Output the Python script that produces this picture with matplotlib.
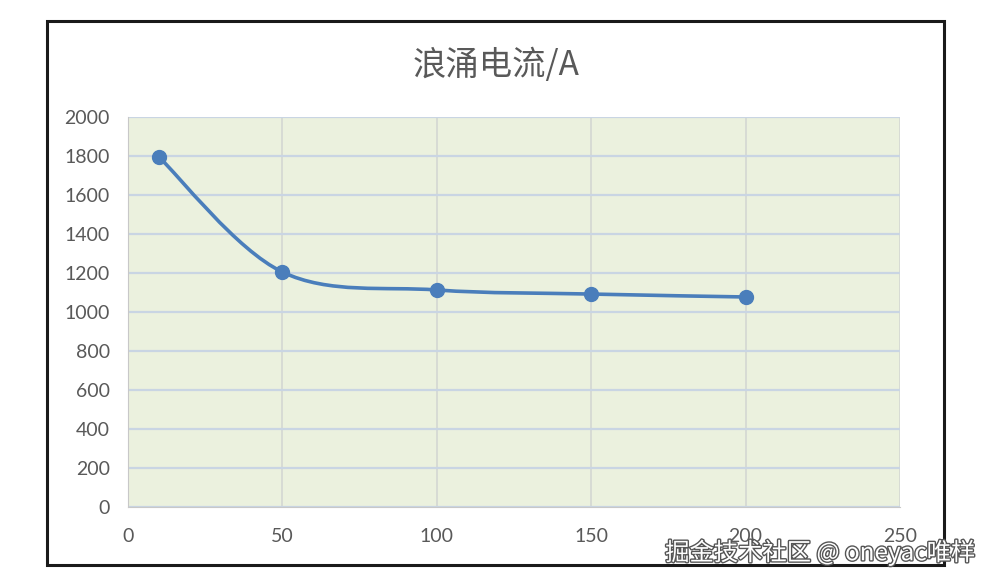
import numpy as np
import matplotlib.pyplot as plt
from matplotlib.path import Path
from matplotlib.patches import PathPatch, Rectangle
import matplotlib.patheffects as pe

plt.rcParams['font.family'] = ['Lato', 'Noto Sans CJK SC', 'DejaVu Sans']

# data
x = [10, 50, 100, 150, 200]
y = [1795, 1205, 1113, 1092, 1077]
title = '浪涌电流/A'
xticks = [0, 50, 100, 150, 200, 250]
yticks = [0, 200, 400, 600, 800, 1000, 1200, 1400, 1600, 1800, 2000]

line_color = '#4a7ebb'
text_color = '#595959'

fig = plt.figure(figsize=(9.96, 5.87), dpi=100)
ax = fig.add_axes([0.1285, 0.1363, 0.775, 0.6644])
ax.set_facecolor('#ebf1de')

# Excel-like smoothed line: cubic bezier through the points
px = np.array(x, float)
py = np.array(y, float)
verts = [(px[0], py[0])]
codes = [Path.MOVETO]
for i in range(len(px) - 1):
    p0 = np.array([px[max(i - 1, 0)], py[max(i - 1, 0)]])
    p1 = np.array([px[i], py[i]])
    p2 = np.array([px[i + 1], py[i + 1]])
    p3 = np.array([px[min(i + 2, len(px) - 1)], py[min(i + 2, len(px) - 1)]])
    c1 = p1 + (p2 - p0) / 6
    c2 = p2 - (p3 - p1) / 6
    verts += [tuple(c1), tuple(c2), tuple(p2)]
    codes += [Path.CURVE4] * 3
ax.add_patch(PathPatch(Path(verts, codes), fill=False, edgecolor=line_color,
                       lw=2.6, zorder=3))
ax.plot(x, y, 'o', color=line_color, ms=10, zorder=4)

ax.set_xlim(0, 250)
ax.set_ylim(0, 2000)
ax.set_xticks(xticks)
ax.set_yticks(yticks)
ax.grid(axis='y', color='#c9d5e3', lw=1.6)
ax.grid(axis='x', color='#d4d7d3', lw=1.2)
ax.set_axisbelow(True)
for s in ['top', 'right']:
    ax.spines[s].set_visible(False)
ax.spines['left'].set_color('#c8c8c8')
ax.spines['bottom'].set_color('#c8c8c8')
ax.tick_params(length=0, labelsize=14, labelcolor=text_color)
ax.tick_params(axis='y', pad=13)
ax.tick_params(axis='x', pad=15)

fig.text(0.498, 0.888, title, ha='center', va='center', fontsize=24,
         color=text_color, family=['Noto Sans CJK SC', 'DejaVu Sans'])

# outer chart border
fig.add_artist(Rectangle((47 / 996, 1 - 565 / 587), (944 - 47) / 996,
                         (565 - 21) / 587, transform=fig.transFigure,
                         fill=False, edgecolor='#1a1a1a', lw=2.2))

# watermark
fig.text(0.979, 0.058, '掘金技术社区 @ oneyac唯样', ha='right', va='center',
         fontsize=17.5, color='white', family=['Noto Sans CJK SC', 'DejaVu Sans'],
         path_effects=[pe.withStroke(linewidth=2, foreground='#555555')])

fig.savefig('out.png', dpi=100, facecolor='white')
